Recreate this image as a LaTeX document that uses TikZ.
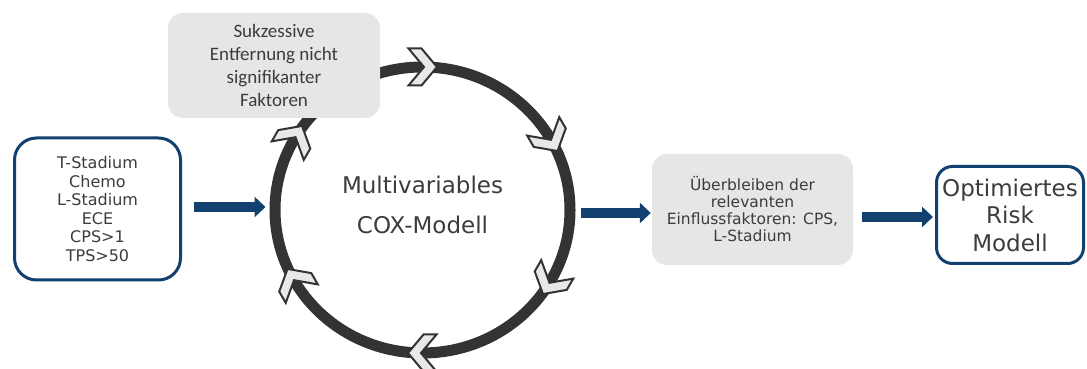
\documentclass[tikz,border=0pt]{standalone}
\usepackage{fontspec}
\setmainfont{DejaVu Sans}
\newfontfamily\calib{Carlito}
\usetikzlibrary{arrows.meta,shapes.geometric,calc}
\definecolor{dblue}{HTML}{12406F}
\definecolor{boxgray}{HTML}{E6E6E6}
\definecolor{ringgray}{HTML}{333333}
\definecolor{txt}{HTML}{3C3C3C}
\definecolor{chevfill}{HTML}{E8E8E8}
\tikzset{
  bluebox/.style={draw=dblue, line width=3pt, rounded corners=20pt, fill=white, align=center, text=txt, inner sep=2pt},
  graybox/.style={fill=boxgray, rounded corners=15pt, align=center, text=txt, inner sep=2pt},
  barrow/.style={draw=dblue, line width=10pt, -{Triangle[length=11pt,width=20pt]}},
  chev/.style={fill=chevfill, draw=ringgray, line width=2pt, line join=miter},
}
\begin{document}
\begin{tikzpicture}[x=1pt,y=1pt]
\useasboundingbox (0,0) rectangle (1087,369);
% ring
\node[ellipse, draw=ringgray, line width=11pt, minimum width=295pt, minimum height=286pt, inner sep=0pt] (ring) at (422.5,159) {};
\node[text=txt, align=center, font=\fontsize{23}{40}\selectfont] (cox) at (422.5,164) {Multivariables\\COX-Modell};
\begin{scope}[shift={(ring.center)}]
\foreach \a in {90,30,-30,-90,-150,150}{
  \draw[chev, shift={({147.5*cos(\a)},{143*sin(\a)})}, rotate=\a-90]
    (-14,18.5) -- (-1,18.5) -- (14.5,0) -- (-1,-18.5) -- (-14,-18.5) -- (1.5,0) -- cycle;
}
\end{scope}
% boxes
\node[bluebox, minimum width=166pt, minimum height=142pt, rounded corners=22pt, font=\fontsize{16}{18.6}\selectfont] (inp) at (97.5,160) {T-Stadium\\Chemo\\L-Stadium\\ECE\\CPS>1\\TPS>50};
\node[graybox, minimum width=212pt, minimum height=105pt, font=\calib\fontsize{19}{23.3}\selectfont] (suk) at (274,303.5) {Sukzessive\\Entfernung nicht\\signifikanter\\Faktoren};
\node[graybox, minimum width=201pt, minimum height=111pt, font=\fontsize{15.5}{17}\selectfont] (mid) at (752.5,159.5) {Überbleiben der\\relevanten\\Einflussfaktoren: CPS,\\L-Stadium};
\node[bluebox, minimum width=147pt, minimum height=97pt, rounded corners=16pt, inner sep=1pt, font=\fontsize{23}{27.5}\selectfont] (out) at (1010,154) {Optimiertes\\Risk\\Modell};
% arrows
\draw[barrow, shorten <=12pt, shorten >=4pt] ([yshift=2pt]inp.east) -- ([yshift=2pt]inp.east -| ring.west);
\draw[barrow, shorten <=5.5pt, shorten >=1pt] ([yshift=-3pt]ring.east) -- ([yshift=-3pt]ring.east -| mid.west);
\draw[barrow, shorten <=9pt, shorten >=2pt] ([yshift=-2pt]out.west -| mid.east) -- ([yshift=-2pt]out.west);
\end{tikzpicture}
\end{document}
